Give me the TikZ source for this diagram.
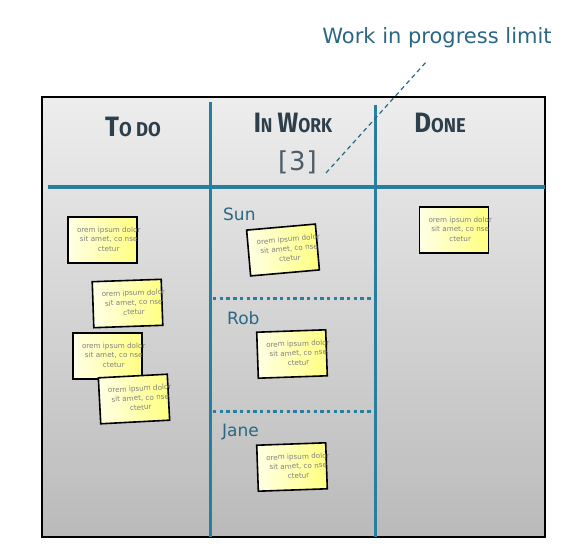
\documentclass[tikz,border=0pt]{standalone}
\usepackage{fontspec}
\setmainfont{DejaVu Sans}
\newfontfamily\headfont{Fira Sans}
\usetikzlibrary{calc}
\definecolor{gridblue}{HTML}{287E9F}
\definecolor{labelblue}{HTML}{2A6784}
\definecolor{headcol}{HTML}{2E3F4C}
\definecolor{notelight}{HTML}{FFFFE6}
\definecolor{notedark}{HTML}{FFFF80}
\tikzset{
  board/.style={draw=black, line width=1.5pt, top color=black!7, bottom color=black!27},
  gridline/.style={draw=gridblue, line width=3.5pt},
  lanesep/.style={draw=gridblue, line width=3.5pt, dash pattern=on 3.4pt off 3.3pt},
  note/.style={draw=black, line width=1.6pt, left color=notelight, right color=notedark,
    minimum width=69pt, minimum height=46pt, inner sep=0pt,
    text=black!50, font=\fontsize{7.2}{9.5}\selectfont},
  lane/.style={text=labelblue, font=\fontsize{17}{20}\selectfont, anchor=west, inner sep=0pt},
  head/.style={text=headcol, font=\headfont\bfseries, inner sep=0pt},
  wip/.style={draw=labelblue, line width=1.2pt, dash pattern=on 4.5pt off 3.5pt}
}
\newcommand{\hbig}[1]{{\fontsize{28}{30}\selectfont #1}}
\newcommand{\hsmall}[1]{{\fontsize{20}{22}\selectfont #1}}
\newcommand{\notebody}{\makebox[58pt][l]{\hspace{3.5pt}\begin{tabular}{@{}c@{}}orem ipsum dolor\\sit amet, co nse\\ctetur\end{tabular}}}
\begin{document}
\begin{tikzpicture}[x=1pt,y=-1pt]
\useasboundingbox (0,0) rectangle (588,556);
% board
\path[board] (42,97) rectangle (545,537);
\coordinate (v1t) at (210.5,102); \coordinate (v1b) at (210.5,537);
\coordinate (v2t) at (375.5,105); \coordinate (v2b) at (375.5,537);
\coordinate (hl) at (48,187); \coordinate (hr) at (545,187);
\draw[gridline] (hl) -- (hr);
\draw[gridline] (v1t) -- (v1b);
\draw[gridline] (v2t) -- (v2b);
\coordinate (d1l) at (213,298.5); \coordinate (d1r) at (372,298.5);
\coordinate (d2l) at (213,411.5); \coordinate (d2r) at (372,411.5);
\draw[lanesep] (d1l) -- (d1r);
\draw[lanesep] (d2l) -- (d2r);
% headers
\node[head, xscale=0.92] (todo) at (133,127) {\hbig{T}\hsmall{O DO}};
\node[head, xscale=0.87] (inwork) at (293,123) {\hbig{I}\hsmall{N}\hspace{6pt}\hbig{W}\hsmall{ORK}};
\node[head, xscale=0.92] (done) at (440,123) {\hbig{D}\hsmall{ONE}};
\node[text=headcol!85, font=\fontsize{26}{30}\selectfont, inner sep=0pt] (limit) at (297.5,162) {[\kern1pt3\kern1pt]};
% wip label
\node[text=labelblue, font=\fontsize{21}{24}\selectfont, inner sep=0pt] (wiplabel) at (437,38) {Work in progress limit};
\coordinate (wipend) at (427,61);
\coordinate (wipstart) at (326,173);
\draw[wip] (wipstart) -- (wipend);
% lanes
\node[lane] (sun) at (223,214) {Sun};
\node[lane] (rob) at (227,318) {Rob};
\node[lane] (jane) at (222,432) {Jane};
% notes
\foreach \nm/\x/\y/\r in {n1/102.5/240/0, n2/127.5/303.5/2, n3/107.5/356/0, n4/134/399/3,
  ns/283/250/5, nr/292/354/2, nj/292/467/2, nd/454/230/0}{
  \node[note, rotate=\r] (\nm) at (\x,\y) {\notebody};
}
\end{tikzpicture}
\end{document}
